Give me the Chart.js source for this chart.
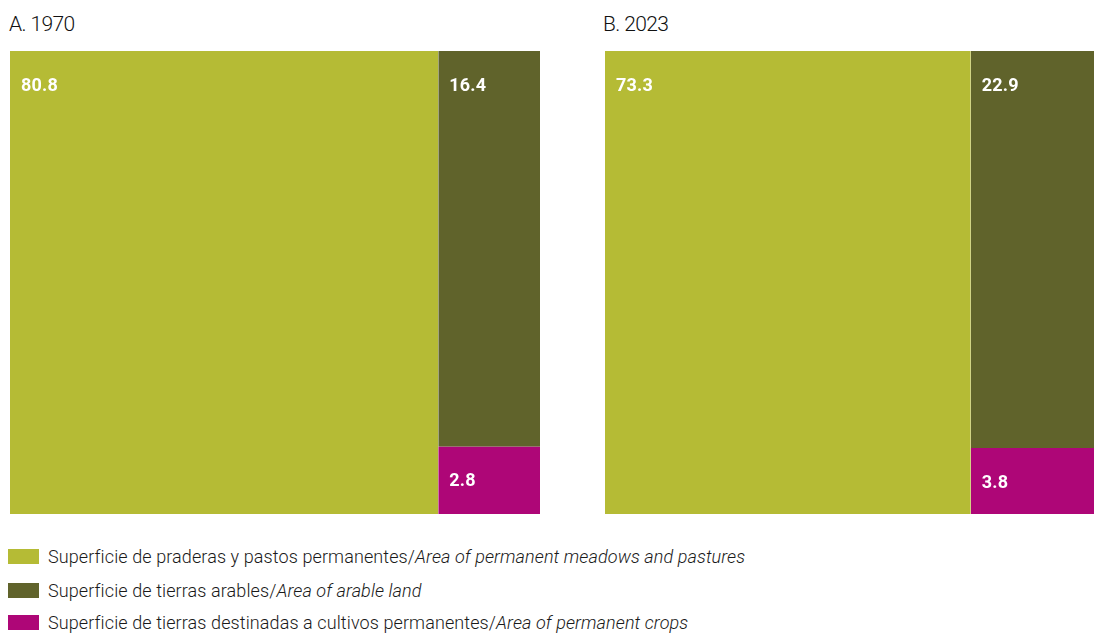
<!DOCTYPE html>
<html>
<head>
<meta charset="utf-8">
<script src="https://cdn.jsdelivr.net/npm/chart.js@4.4.0/dist/chart.umd.min.js"></script>
<style>
  html, body { margin: 0; padding: 0; background: #fff; overflow: hidden; }
  body { width: 1094px; height: 633px; position: relative; font-family: Roboto, sans-serif; color: #222; }
  .title { position: absolute; top: 12px; font-size: 21px; font-weight: 300; letter-spacing: -0.6px; color: #111; }
  .box { position: absolute; top: 51px; height: 463px; }
  .legend { position: absolute; left: 8px; font-size: 18px; font-weight: 300; letter-spacing: 0.1px; color: #1a1a1a; }
  .legend .sw { display: inline-block; width: 31px; height: 15px; vertical-align: -1px; margin-right: 9px; }
</style>
</head>
<body>
<div class="title" id="t0" style="left:9px"></div>
<div class="title" id="t1" style="left:603px"></div>
<div class="box" style="left:10px;width:530px"><canvas id="c0"></canvas></div>
<div class="box" style="left:605px;width:499px"><canvas id="c1"></canvas></div>
<div id="legend"></div>
<script>
// data
const panels = ['A. 1970', 'B. 2023'];
const pastures = [80.8, 73.3];
const arable = [16.4, 22.9];
const crops = [2.8, 3.8];
const seriesNames = [
  ['Superficie de praderas y pastos permanentes/', 'Area of permanent meadows and pastures'],
  ['Superficie de tierras arables/', 'Area of arable land'],
  ['Superficie de tierras destinadas a cultivos permanentes/', 'Area of permanent crops']
];
const colors = ['#B5BB35', '#60632B', '#AE0677'];

// legend
const legendTops = [546, 580, 612];
let html = '';
seriesNames.forEach((s, i) => {
  html += '<div class="legend" style="top:' + legendTops[i] + 'px"><span class="sw" style="background:' + colors[i] + '"></span>' +
    s[0] + '<i>' + s[1] + '</i></div>';
});
document.getElementById('legend').innerHTML = html;

// labels drawn at the top-left of each block
const blockLabels = {
  id: 'blockLabels',
  afterDatasetsDraw(chart) {
    const c = chart.ctx, xs = chart.scales.x, ys = chart.scales.y;
    c.save();
    c.fillStyle = '#fff';
    c.font = 'bold 18px Roboto, sans-serif';
    c.letterSpacing = '0.2px';
    c.textBaseline = 'alphabetic';
    chart.data.datasets.forEach(ds => {
      const x = xs.getPixelForValue(ds.data[0].x);
      const y = ys.getPixelForValue(ds.data[0].y);
      c.fillText(ds.value.toFixed(1), x + 11, y + 40);
    });
    c.restore();
  }
};

function makePanel(i) {
  document.getElementById('t' + i).textContent = panels[i];
  const right = arable[i] + crops[i];
  const cropTop = crops[i] / right * 100;
  const base = { pointRadius: 0, borderWidth: 0, borderColor: 'transparent', tension: 0 };
  new Chart(document.getElementById('c' + i), {
    type: 'line',
    data: {
      datasets: [
        Object.assign({}, base, { label: 'pastures', value: pastures[i], backgroundColor: colors[0], fill: 'origin',
          data: [{ x: 0, y: 100 }, { x: pastures[i], y: 100 }] }),
        Object.assign({}, base, { label: 'arable', value: arable[i], backgroundColor: colors[1], fill: { value: cropTop },
          data: [{ x: pastures[i], y: 100 }, { x: 100, y: 100 }] }),
        Object.assign({}, base, { label: 'crops', value: crops[i], backgroundColor: colors[2], fill: 'origin',
          data: [{ x: pastures[i], y: cropTop }, { x: 100, y: cropTop }] })
      ]
    },
    options: {
      responsive: true,
      maintainAspectRatio: false,
      animation: false,
      layout: { padding: 0 },
      scales: {
        x: { type: 'linear', min: 0, max: 100, display: false },
        y: { type: 'linear', min: 0, max: 100, display: false }
      },
      plugins: { legend: { display: false }, tooltip: { enabled: false } }
    },
    plugins: [blockLabels]
  });
}
panels.forEach((p, i) => makePanel(i));
</script>
</body>
</html>
